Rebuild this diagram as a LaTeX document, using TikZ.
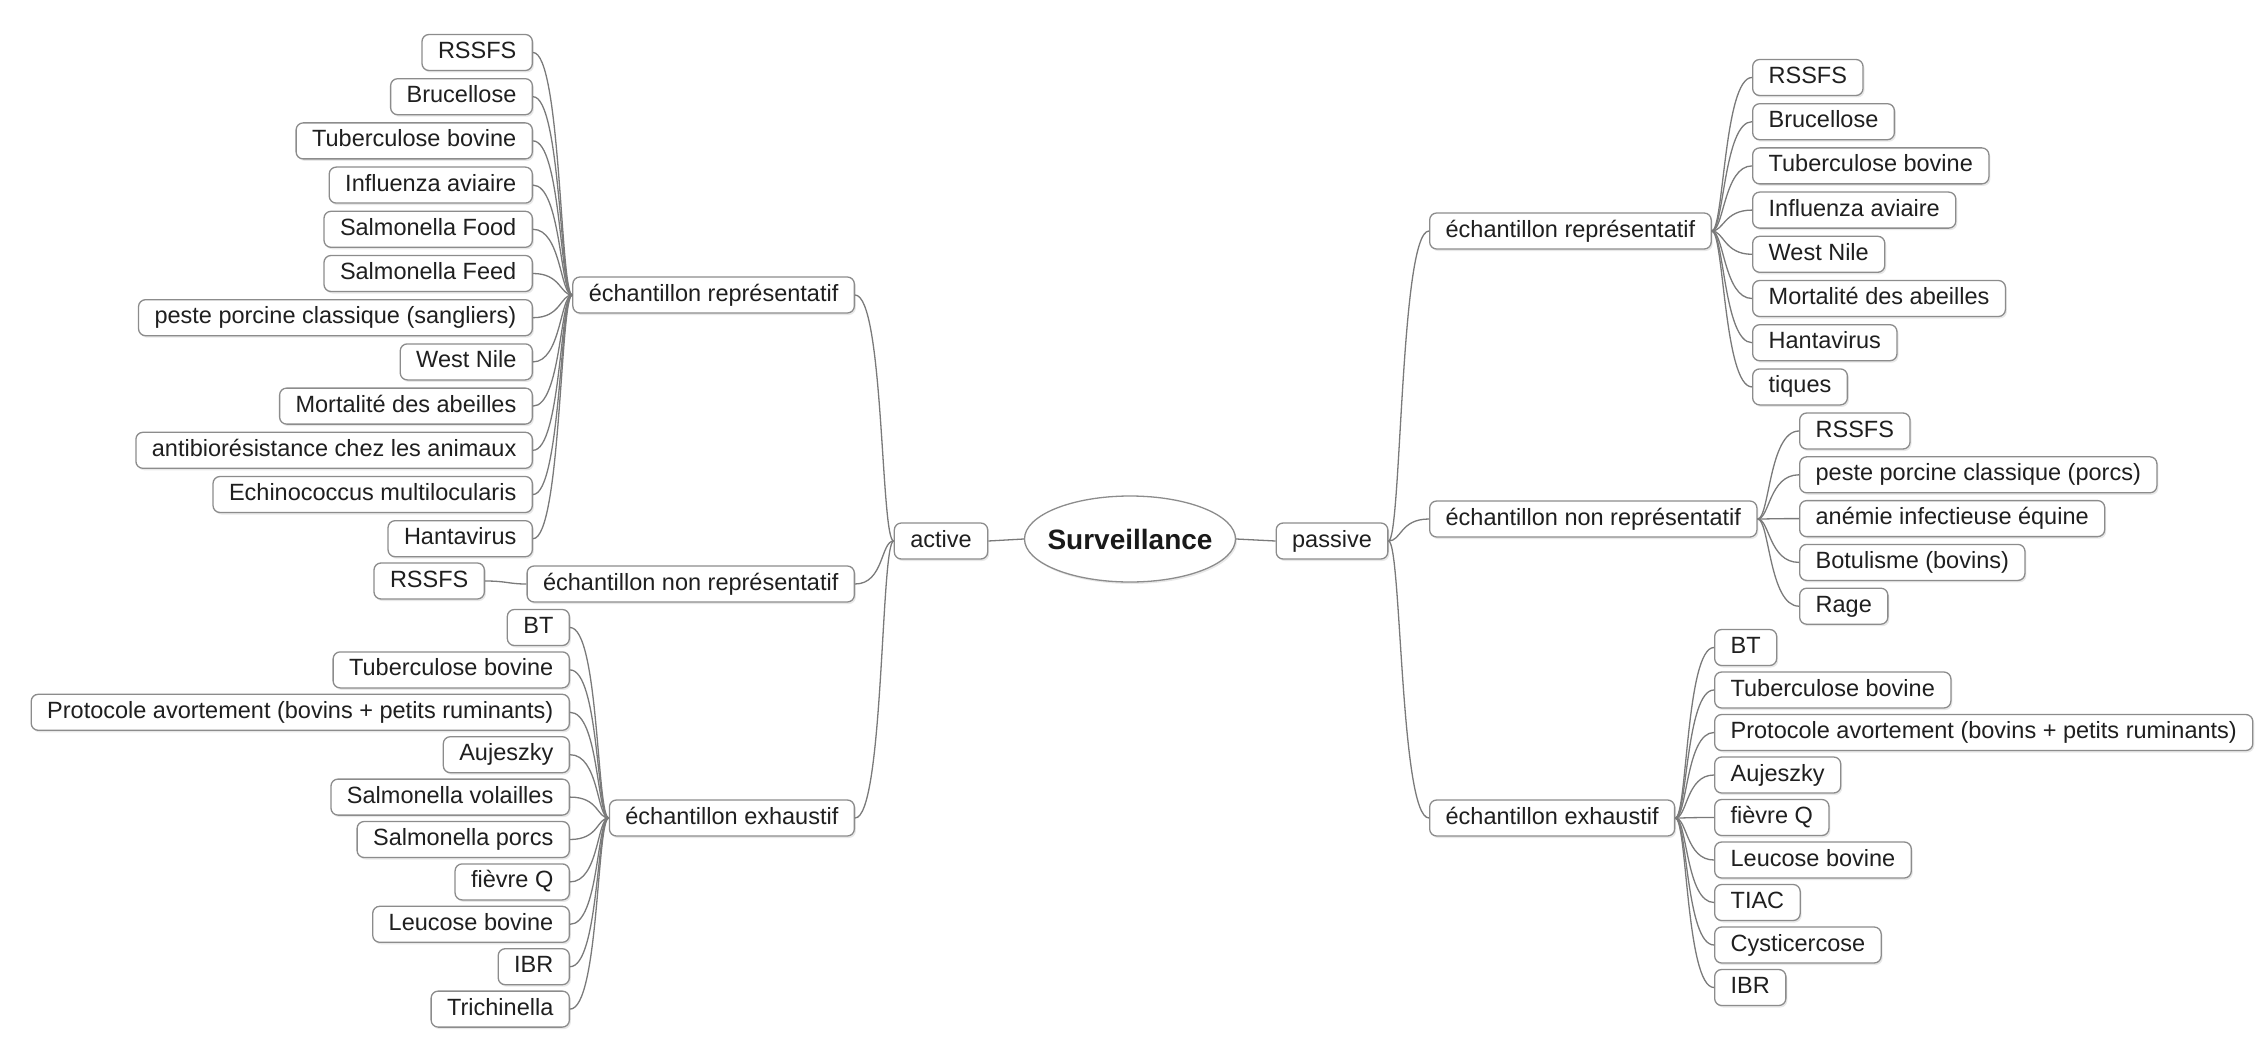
\documentclass[tikz,border=0pt]{standalone}
\usepackage{fontspec}
\setmainfont{Liberation Sans}
\usetikzlibrary{shapes.geometric,shadows}
\begin{document}
\begin{tikzpicture}[x=1pt,y=-1pt,
  box/.style={rectangle, rounded corners=7pt, draw=black!45, line width=1.3pt, fill=white,
    minimum height=36pt, inner xsep=16pt, inner ysep=0pt, text height=17pt, text depth=5pt,
    font=\fontsize{23.5}{28}\selectfont, text=black!88,
    drop shadow={shadow xshift=1.5pt, shadow yshift=-2pt, fill=black!18}},
  root/.style={ellipse, draw=black!45, line width=1.3pt, fill=white, minimum width=211pt,
    minimum height=86pt, inner sep=0pt, font=\fontsize{28}{32}\selectfont\bfseries, text=black!90,
    drop shadow={shadow xshift=1.5pt, shadow yshift=-2pt, fill=black!18}},
  link/.style={draw=black!52, line width=1.3pt},
]
\useasboundingbox (0,0) rectangle (2258,1043);

% centre
\node[root] (surv) at (1130,539) {\makebox[120pt][c]{Surveillance}};
\node[box] (act) at (941,541) {active};
\node[box] (pas) at (1332,541) {passive};
\draw[link] (surv.west) -- (act.east);
\draw[link] (surv.east) -- (pas.west);

% second level, left
\node[box, anchor=east] (lrep) at (855,295) {échantillon représentatif};
\node[box, anchor=east] (lnon) at (855,584) {échantillon non représentatif};
\node[box, anchor=east] (lexh) at (855,818) {échantillon exhaustif};
\foreach \n in {lrep,lnon,lexh}
  \draw[link] (act.west) .. controls +(-13,0) and +(29,0) .. (\n.east);

% second level, right
\node[box, anchor=west] (rrep) at (1429,231) {échantillon représentatif};
\node[box, anchor=west] (rnon) at (1429,519) {échantillon non représentatif};
\node[box, anchor=west] (rexh) at (1429,818) {échantillon exhaustif};
\foreach \n in {rrep,rnon,rexh}
  \draw[link] (pas.east) .. controls +(13,0) and +(-29,0) .. (\n.west);

% left leaves
\foreach \t [count=\i] in {{RSSFS},{Brucellose},{Tuberculose bovine},{Influenza aviaire},
  {Salmonella Food},{Salmonella Feed},{peste porcine classique (sangliers)},{West Nile},
  {Mortalité des abeilles},{antibiorésistance chez les animaux},{Echinococcus multilocularis},{Hantavirus}}{
  \node[box, anchor=east] (lr\i) at (533,{52.5+44.2*(\i-1)}) {\t};
  \draw[link] (lrep.west) .. controls +(-12,0) and +(28,0) .. (lr\i.east);
}
\node[box, anchor=east] (ln1) at (485,581) {RSSFS};
\draw[link] (lnon.west) .. controls +(-18,0) and +(22,0) .. (ln1.east);
\foreach \t [count=\i] in {{BT},{Tuberculose bovine},{Protocole avortement (bovins + petits ruminants)},
  {Aujeszky},{Salmonella volailles},{Salmonella porcs},{fièvre Q},{Leucose bovine},{IBR},{Trichinella}}{
  \node[box, anchor=east] (le\i) at (570,{627.5+42.4*(\i-1)}) {\t};
  \draw[link] (lexh.west) .. controls +(-12,0) and +(29,0) .. (le\i.east);
}

% right leaves
\foreach \t [count=\i] in {{RSSFS},{Brucellose},{Tuberculose bovine},{Influenza aviaire},
  {West Nile},{Mortalité des abeilles},{Hantavirus},{tiques}}{
  \node[box, anchor=west] (rr\i) at (1752,{77.5+44.2*(\i-1)}) {\t};
  \draw[link] (rrep.east) .. controls +(12,0) and +(-28,0) .. (rr\i.west);
}
\foreach \t [count=\i] in {{RSSFS},{peste porcine classique (porcs)},{anémie infectieuse équine},
  {Botulisme (bovins)},{Rage}}{
  \node[box, anchor=west] (rn\i) at (1799,{431+43.8*(\i-1)}) {\t};
  \draw[link] (rnon.east) .. controls +(12,0) and +(-30,0) .. (rn\i.west);
}
\foreach \t [count=\i] in {{BT},{Tuberculose bovine},{Protocole avortement (bovins + petits ruminants)},
  {Aujeszky},{fièvre Q},{Leucose bovine},{TIAC},{Cysticercose},{IBR}}{
  \node[box, anchor=west] (re\i) at (1714,{647.5+42.5*(\i-1)}) {\t};
  \draw[link] (rexh.east) .. controls +(12,0) and +(-28,0) .. (re\i.west);
}
\end{tikzpicture}
\end{document}
